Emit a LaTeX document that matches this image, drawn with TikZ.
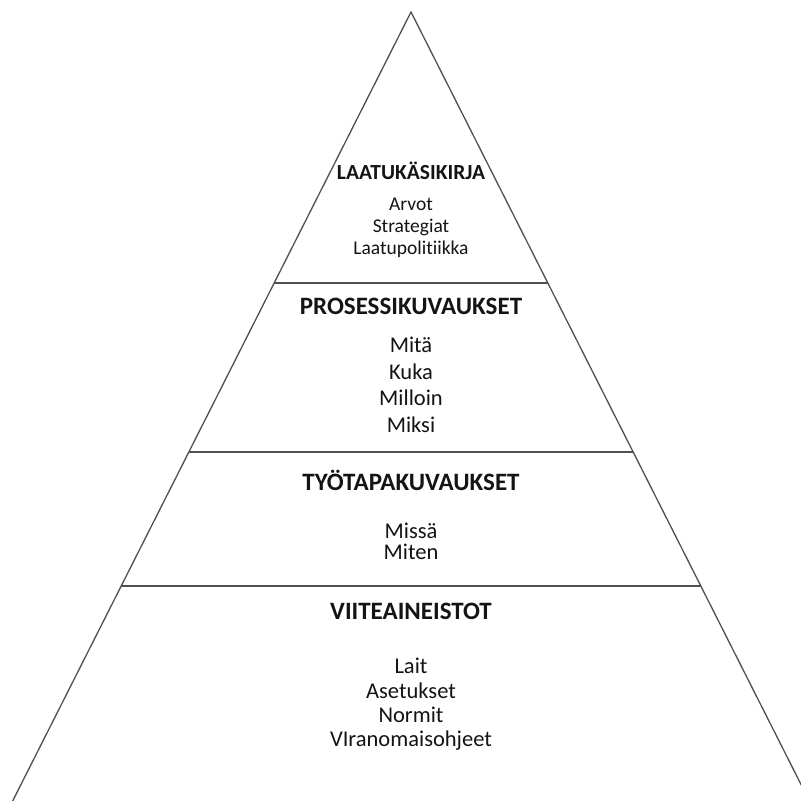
\documentclass[tikz,border=0pt]{standalone}
\usepackage{fontspec}
\setmainfont{Carlito}[Ligatures=NoCommon]
\definecolor{edge}{RGB}{80,80,80}
\definecolor{ink}{RGB}{20,20,20}
\begin{document}
\begin{tikzpicture}[x=1pt,y=-1pt,
  edgeline/.style={draw=edge,line width=1.3pt},
  title/.style={anchor=base,inner sep=0pt,text=ink,font=\fontsize{25}{25}\selectfont\bfseries},
  smalltitle/.style={anchor=base,inner sep=0pt,text=ink,font=\fontsize{21.5}{21.5}\selectfont\bfseries},
  body/.style={anchor=base,inner sep=0pt,text=ink,font=\fontsize{22.5}{22.5}\selectfont},
  smallbody/.style={anchor=base,inner sep=0pt,text=ink,font=\fontsize{19.5}{19.5}\selectfont}]
\useasboundingbox (0,0) rectangle (801,801);
\fill[white] (0,0) rectangle (801,801);
\clip (0,0) rectangle (801,801);
\coordinate (apex) at (411,12);
\coordinate (bl) at (-2,830);
\coordinate (br) at (824,830);
\coordinate (l1) at (274.1,283);
\coordinate (r1) at (547.9,283);
\coordinate (l2) at (188.8,452);
\coordinate (r2) at (633.2,452);
\coordinate (l3) at (121.1,586);
\coordinate (r3) at (700.9,586);
\draw[edgeline,line join=miter] (bl) -- (apex) -- (br);
\draw[edgeline] (l1) -- (r1);
\draw[edgeline] (l2) -- (r2);
\draw[edgeline] (l3) -- (r3);
% layer 1
\node[smalltitle] (t1) at (411,179) {LAATUKÄSIKIRJA};
\node[smallbody] (a1) at (411,210) {Arvot};
\node[smallbody] (a2) at (411,232.3) {Strategiat};
\node[smallbody] (a3) at (411,254) {Laatupolitiikka};
% layer 2
\node[title] (t2) at (411,314) {PROSESSIKUVAUKSET};
\node[body] (b1) at (411,352.3) {Mitä};
\node[body] (b2) at (411,379.3) {Kuka};
\node[body] (b3) at (411,405) {Milloin};
\node[body] (b4) at (411,432.7) {Miksi};
% layer 3
\node[title] (t3) at (411,490) {TYÖTAPAKUVAUKSET};
\node[body] (c1) at (411,538.3) {Missä};
\node[body] (c2) at (411,559.3) {Miten};
% layer 4
\node[title] (t4) at (411,619) {VIITEAINEISTOT};
\node[body] (d1) at (411,673.3) {Lait};
\node[body] (d2) at (411,698.3) {Asetukset};
\node[body] (d3) at (411,722.7) {Normit};
\node[body] (d4) at (411,746.7) {VIranomaisohjeet};
\end{tikzpicture}
\end{document}
